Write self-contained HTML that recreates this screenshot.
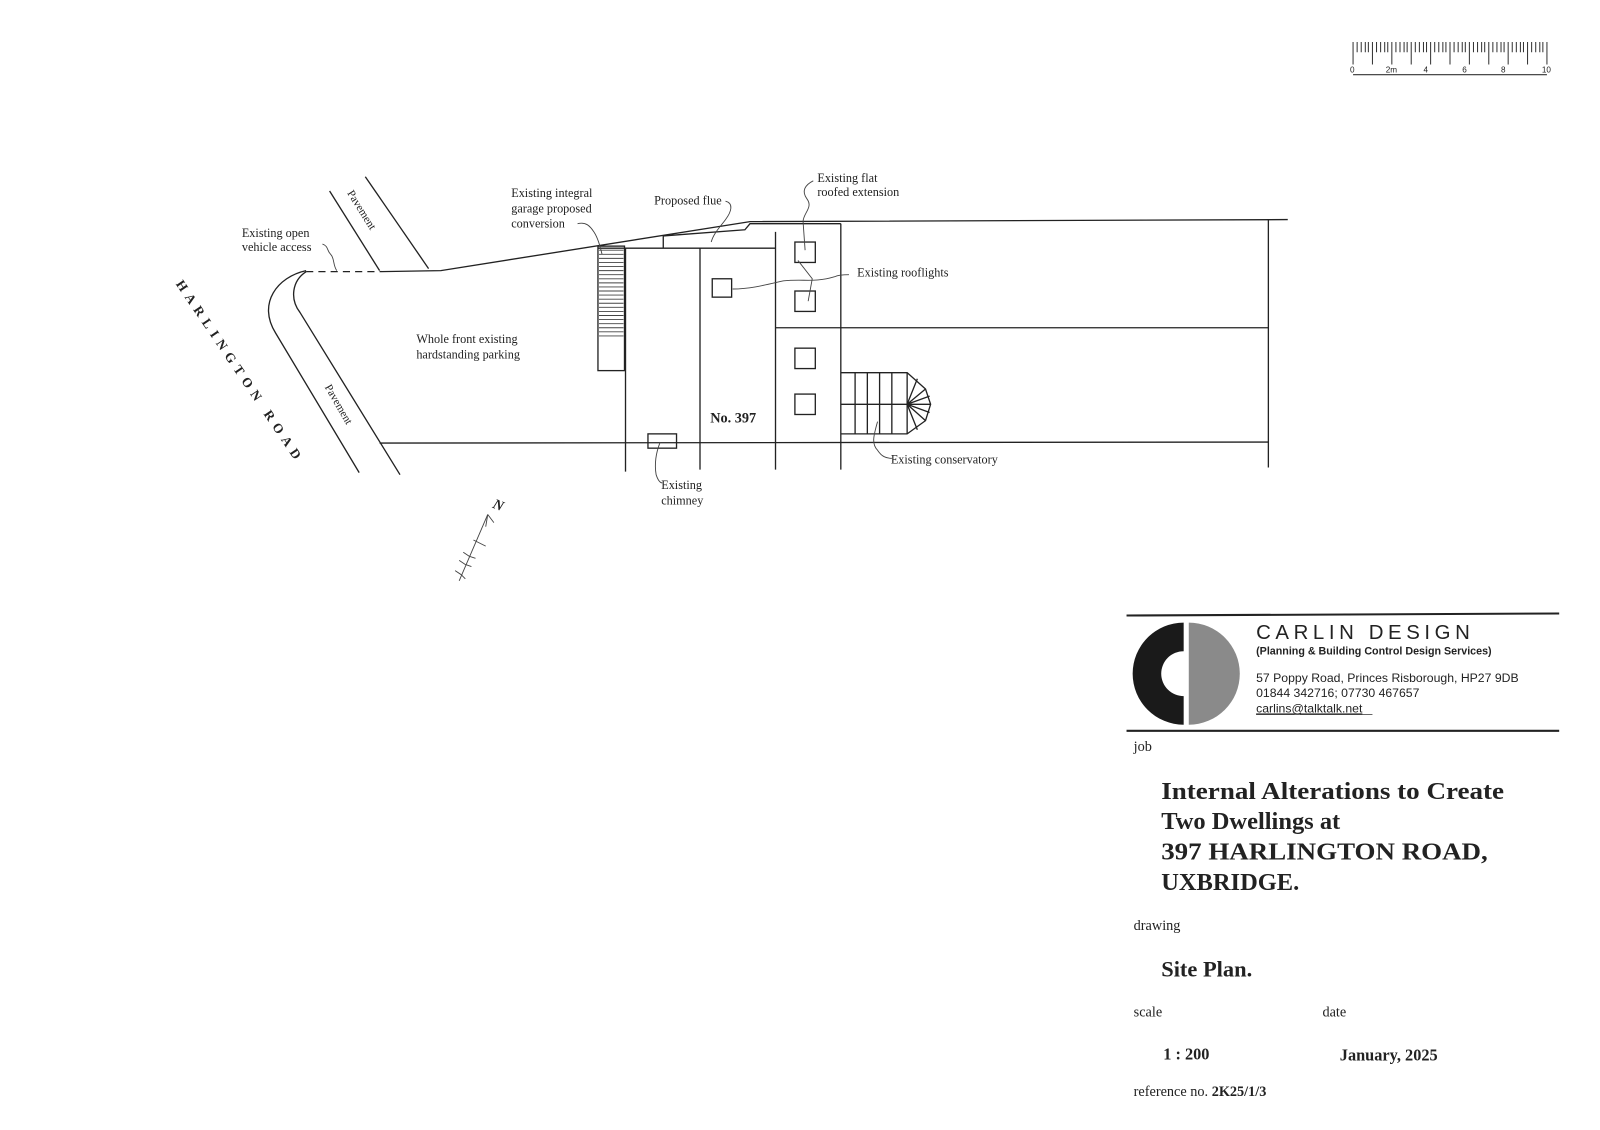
<!DOCTYPE html>
<html><head><meta charset="utf-8"><style>
html,body{margin:0;padding:0;background:#fff}
svg{display:block}
text{font-family:"Liberation Serif",serif;fill:#222}
.s{font-family:"Liberation Sans",sans-serif}
</style></head><body>
<svg width="1600" height="1130" viewBox="0 0 1568 1105" xmlns="http://www.w3.org/2000/svg">
<rect width="1568" height="1105" fill="#fff"/>
<!-- scale bar -->
<g stroke="#333" stroke-width="1" fill="none">
<line x1="1326" y1="72" x2="1516" y2="72"/>
<path d="M1326 40v22M1345 40v22M1364 40v22M1383 40v22M1402 40v22M1421 40v22M1440 40v22M1459 40v22M1478 40v22M1497 40v22M1516 40v22"/>
<path d="M1330 40v10M1334 40v10M1338 40v10M1341 40v10M1349 40v10M1353 40v10M1357 40v10M1360 40v10M1368 40v10M1372 40v10M1376 40v10M1379 40v10M1387 40v10M1391 40v10M1395 40v10M1398 40v10M1406 40v10M1410 40v10M1414 40v10M1417 40v10M1425 40v10M1429 40v10M1433 40v10M1436 40v10M1444 40v10M1448 40v10M1452 40v10M1455 40v10M1463 40v10M1467 40v10M1471 40v10M1474 40v10M1482 40v10M1486 40v10M1490 40v10M1493 40v10M1501 40v10M1505 40v10M1509 40v10M1512 40v10"/>
</g>
<g class="s" font-size="8"><text x="1323" y="70" class="s">0</text><text x="1358" y="70" class="s">2m</text><text x="1395" y="70" class="s">4</text><text x="1433" y="70" class="s">6</text><text x="1471" y="70" class="s">8</text><text x="1511" y="70" class="s">10</text></g>

<!-- plan -->
<g stroke="#222" stroke-width="1.3" fill="none">
<line x1="323" y1="186" x2="372" y2="264"/>
<line x1="358" y1="172" x2="420" y2="262"/>
<line x1="300" y1="265" x2="372" y2="265" stroke-dasharray="7,5"/>
<polyline points="372,265 432,264 735,216 1262,214"/>
<path d="M300,264 C272,270 252,296 270,325 L352,462"/>
<path d="M300,265 C286,274 284,292 294,305 L392,464"/>
<line x1="372" y1="433" x2="1243" y2="432"/>
<line x1="1243" y1="214" x2="1243" y2="457"/>
<line x1="824" y1="320" x2="1243" y2="320"/>
<rect x="586" y="240" width="26" height="122"/>
<line x1="586" y1="242" x2="760" y2="242"/>
<line x1="613" y1="242" x2="613" y2="461"/>
<line x1="686" y1="242" x2="686" y2="459"/>
<line x1="760" y1="226" x2="760" y2="459"/>
<line x1="824" y1="218" x2="824" y2="459"/>
<polyline points="650,242 650,230 730,224 735,218 824,218"/>
<line x1="760" y1="320" x2="824" y2="320"/>
<rect x="779" y="236" width="20" height="20"/>
<rect x="779" y="284" width="20" height="20"/>
<rect x="779" y="340" width="20" height="20"/>
<rect x="779" y="385" width="20" height="20"/>
<rect x="698" y="272" width="19" height="18"/>
<rect x="635" y="424" width="28" height="14"/>
<!-- conservatory -->
<polyline points="824,364 889,364 907,380 912,395 907,411 889,424 824,424"/>
<line x1="824" y1="395" x2="912" y2="395"/>
<path d="M838 364v60M850 364v60M862 364v60M874 364v60M889 364v60"/>
<path d="M889 395L899 370M889 395L907 380M889 395L911 387M889 395L911 403M889 395L907 411M889 395L899 420"/>
</g>
<g stroke="#444" stroke-width="0.9" fill="none">
<line x1="587" y1="244" x2="611" y2="244"/>
<path d="M587 248h24M587 252h24M587 256h24M587 260h24M587 264h24M587 268h24M587 272h24M587 276h24M587 280h24M587 284h24M587 288h24M587 292h24M587 296h24M587 300h24M587 304h24M587 308h24M587 312h24M587 316h24M587 320h24M587 324h24M587 328h24"/>
<!-- leaders -->
<path d="M316,238 c6,2 4,6 8,10 c4,4 2,10 6,16"/>
<path d="M566,218 c8,-2 12,2 16,8 c4,6 6,14 8,22"/>
<path d="M711,196 c8,2 6,10 0,18 c-6,8 -12,14 -14,22"/>
<path d="M797,176 c-8,4 -12,10 -6,18 c6,8 -4,14 -4,22 l2,28"/>
<path d="M718,282 c20,0 40,-6 50,-8 c20,-2 30,2 50,-4 c4,-2 10,-2 14,-2"/>
<path d="M782,254 l14,18 l-4,22"/>
<path d="M647,432 c-4,10 -6,20 -4,32 c2,6 4,8 6,8"/>
<path d="M860,412 c-4,14 -6,22 0,28 c4,6 8,8 14,8"/>
<!-- north arrow -->
<line x1="450" y1="568" x2="478" y2="503"/>
<path d="M478,503 l-2,12 M478,503 l6,8"/>
<path d="M464,528 l12,6"/>
<path d="M452,562 l-6,-4 M456,552 l-6,-4 M460,544 l-6,-4 M452,562 l4,4 M456,552 l6,2 M460,544 l6,2"/>
</g>
<g font-size="12">
<text x="237" y="231">Existing open</text>
<text x="237" y="245">vehicle access</text>
<text x="501" y="192">Existing integral</text>
<text x="501" y="207">garage proposed</text>
<text x="501" y="222">conversion</text>
<text x="641" y="199">Proposed flue</text>
<text x="801" y="177">Existing flat</text>
<text x="801" y="191">roofed extension</text>
<text x="840" y="270">Existing rooflights</text>
<text x="408" y="335">Whole front existing</text>
<text x="408" y="350">hardstanding parking</text>
<text x="873" y="453">Existing conservatory</text>
<text x="648" y="478">Existing</text>
<text x="648" y="493">chimney</text>
<text x="696" y="413" font-size="14" font-weight="bold">No. 397</text>
<text transform="translate(340,188) rotate(58)" font-size="11">Pavement</text>
<text transform="translate(318,378) rotate(60)" font-size="11">Pavement</text>
<text transform="translate(172,277) rotate(56)" font-size="13" font-weight="bold" letter-spacing="5.5">HARLINGTON ROAD</text>
<text transform="translate(482,496) rotate(22)" font-size="14" font-weight="bold" font-style="italic">N</text>
</g>

<!-- title block -->
<line x1="1104" y1="602" x2="1528" y2="600" stroke="#222" stroke-width="2"/>
<line x1="1104" y1="715" x2="1528" y2="715" stroke="#222" stroke-width="2"/>
<path d="M1160,609 A50,50 0 0 0 1160,709 L1160,681 A22,22 0 0 1 1160,637 Z" fill="#1a1a1a"/>
<path d="M1165,609 A50,50 0 0 1 1165,709 Z" fill="#8a8a8a"/>
<text class="s" x="1231" y="625" font-size="20" letter-spacing="4.5" fill="#111">CARLIN DESIGN</text>
<text class="s" x="1231" y="640" font-size="10.5" font-weight="bold">(Planning &amp; Building Control Design Services)</text>
<text class="s" x="1231" y="667" font-size="12">57 Poppy Road, Princes Risborough, HP27 9DB</text>
<text class="s" x="1231" y="682" font-size="12">01844 342716; 07730 467657</text>
<text class="s" x="1231" y="697" font-size="12" text-decoration="underline">carlins@talktalk.net</text>
<line x1="1231" y1="699" x2="1345" y2="699" stroke="#333" stroke-width="0.8"/>
<text x="1111" y="735" font-size="14">job</text>
<g font-size="24" font-weight="bold" fill="#333">
<text x="1138" y="782" textLength="336" lengthAdjust="spacingAndGlyphs">Internal Alterations to Create</text>
<text x="1138" y="811">Two Dwellings at</text>
<text x="1138" y="841" textLength="320" lengthAdjust="spacingAndGlyphs">397 HARLINGTON ROAD,</text>
<text x="1138" y="871">UXBRIDGE.</text>
</g>
<text x="1111" y="910" font-size="14">drawing</text>
<text x="1138" y="956" font-size="22" font-weight="bold">Site Plan.</text>
<text x="1111" y="995" font-size="14">scale</text>
<text x="1296" y="995" font-size="14">date</text>
<text x="1140" y="1037" font-size="16" font-weight="bold">1 : 200</text>
<text x="1313" y="1038" font-size="16" font-weight="bold">January, 2025</text>
<text x="1111" y="1073" font-size="14">reference no. <tspan font-weight="bold">2K25/1/3</tspan></text>
</svg>
</body></html>
